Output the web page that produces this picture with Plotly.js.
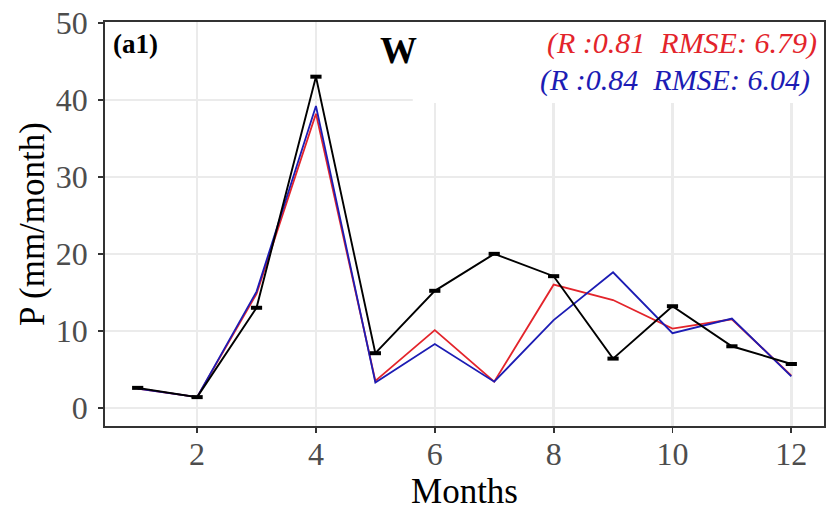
<!DOCTYPE html>
<html>
<head>
<meta charset="utf-8">
<script src="https://cdn.plot.ly/plotly-3.0.1.min.js"></script>
<style>html,body{margin:0;padding:0;background:#fff;}#chart{width:828px;height:516px;}</style>
</head>
<body>
<div id="chart"></div>
<script>
const months = [1,2,3,4,5,6,7,8,9,10,11,12];
const observed = [2.6,1.4,13.0,43.0,7.1,15.2,20.0,17.1,6.4,13.2,8.0,5.7];
const modelRed = [2.5,1.4,14.8,38.2,3.5,10.1,3.4,16.0,14.0,10.3,11.5,4.2];
const modelBlue = [2.5,1.4,15.1,39.2,3.3,8.3,3.4,11.4,17.6,9.7,11.6,4.1];
const xTicks = [2,4,6,8,10,12];
const yTicks = [0,10,20,30,40,50];
const panelLabel = "(a1)";
const stationName = "W";
const redStats = "(R :0.81  RMSE: 6.79)";
const blueStats = "(R :0.84  RMSE: 6.04)";

const serif = "Liberation Serif, Times New Roman, serif";
const red = "#e3242b";
const blue = "#1c1cb4";

const traces = [
  {x: months, y: modelRed, type: "scatter", mode: "lines", line: {color: red, width: 1.8}, showlegend: false},
  {x: months, y: modelBlue, type: "scatter", mode: "lines", line: {color: blue, width: 1.8}, showlegend: false},
  {x: months, y: observed, type: "scatter", mode: "lines+markers", line: {color: "#000", width: 1.9},
   marker: {symbol: "line-ew", size: 8, line: {color: "#000", width: 4}}, showlegend: false}
];

const axisCommon = {
  showline: true, mirror: true, linecolor: "#333", linewidth: 1.8,
  ticks: "outside", ticklen: 5, tickwidth: 1.8, tickcolor: "#333",
  showgrid: true, gridcolor: "#ebebeb", gridwidth: 2.5, zeroline: false,
  tickfont: {family: serif, size: 32, color: "#4d4d4d"}
};

const layout = {
  width: 828, height: 516,
  margin: {l: 105, r: 4, t: 22, b: 90},
  paper_bgcolor: "#fff", plot_bgcolor: "#fff",
  xaxis: Object.assign({}, axisCommon, {
    range: [0.45, 12.55], tickvals: xTicks, ticktext: xTicks.map(String),
    ticklabelstandoff: -6,
    title: {text: "Months", font: {family: serif, size: 35, color: "#000"}, standoff: 6}
  }),
  yaxis: Object.assign({}, axisCommon, {
    range: [-2.35, 50.1], tickvals: yTicks, ticktext: yTicks.map(String),
    ticklabelstandoff: 4,
    title: {text: "P (mm/month)", font: {family: serif, size: 35, color: "#000"}, standoff: 0}
  }),
  shapes: [
    {type: "rect", xref: "x", yref: "y", x0: 5.63, x1: 12.55, y0: 39.6, y1: 50.1,
     fillcolor: "#fff", line: {width: 0}, layer: "between"}
  ],
  annotations: [
    {text: "<b>" + panelLabel + "</b>", xref: "paper", yref: "paper", x: 0.008, y: 0.945,
     xanchor: "left", yanchor: "middle", showarrow: false, font: {family: serif, size: 27, color: "#000"}},
    {text: "<b>" + stationName + "</b>", xref: "paper", yref: "paper", x: 0.408, y: 0.93,
     xanchor: "center", yanchor: "middle", showarrow: false, font: {family: serif, size: 37, color: "#000"}},
    {text: "<i>" + redStats.replace(/  /g, "&nbsp;&nbsp;") + "</i>", xref: "paper", yref: "paper", x: 0.993, y: 0.948,
     xanchor: "right", yanchor: "middle", showarrow: false, font: {family: serif, size: 30, color: red}},
    {text: "<i>" + blueStats.replace(/  /g, "&nbsp;&nbsp;") + "</i>", xref: "paper", yref: "paper", x: 0.983, y: 0.856,
     xanchor: "right", yanchor: "middle", showarrow: false, font: {family: serif, size: 30, color: blue}}
  ]
};

Plotly.newPlot("chart", traces, layout, {displayModeBar: false, staticPlot: true});
</script>
</body>
</html>
